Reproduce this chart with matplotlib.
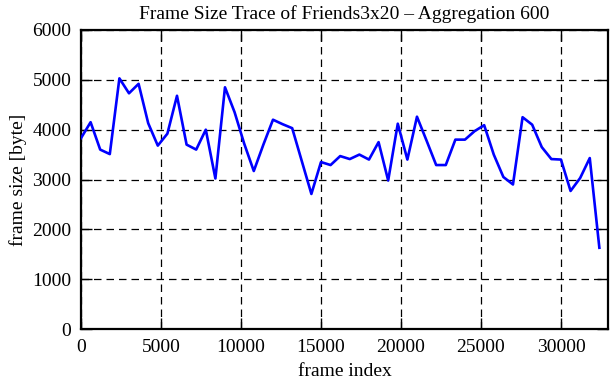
import numpy as np
import matplotlib as mpl
import matplotlib.pyplot as plt

mpl.rcParams["font.family"] = ["Liberation Serif", "DejaVu Serif"]

# aggregated frame sizes, one point every 600 frames
agg_step = 600
frame_size = [
    3830, 4150, 3600, 3510, 5030, 4730, 4920, 4130, 3680, 3920,
    4680, 3700, 3600, 4000, 3020, 4850, 4350, 3720, 3170, 3700,
    4200, 4110, 4030, 3370, 2710, 3350, 3290, 3470, 3410, 3500,
    3400, 3750, 2980, 4120, 3400, 4260, 3780, 3290, 3290, 3800,
    3800, 3970, 4090, 3500, 3050, 2900, 4250, 4100, 3650, 3410,
    3400, 2770, 3030, 3430, 1630,
]
frame_index = np.arange(len(frame_size)) * agg_step

x_ticks = [0, 5000, 10000, 15000, 20000, 25000, 30000]
y_ticks = [0, 1000, 2000, 3000, 4000, 5000, 6000]

fig = plt.figure(figsize=(6.11, 3.80), dpi=100)
ax = fig.add_axes([81 / 611, 1 - 329 / 380, (608 - 81) / 611, (329 - 30) / 380])

ax.plot(frame_index, frame_size, color="#0000ff", lw=1.9, zorder=3)

ax.set_xlim(0, 32940)
ax.set_ylim(0, 6000)
ax.set_xticks(x_ticks)
ax.set_yticks(y_ticks)
ax.grid(True, color="black", lw=0.9, linestyle=(0, (6, 4)))
ax.tick_params(direction="in", length=8, width=1, top=True, right=True,
               labelsize=14, pad=7)
for s in ax.spines.values():
    s.set_linewidth(1.6)

ax.set_xlabel("frame index", fontsize=14, labelpad=5)
ax.set_ylabel("frame size [byte]", fontsize=14, labelpad=4)
ax.set_title("Frame Size Trace of Friends3x20 – Aggregation 600", fontsize=14, pad=8)

fig.savefig("out.png", dpi=100)
